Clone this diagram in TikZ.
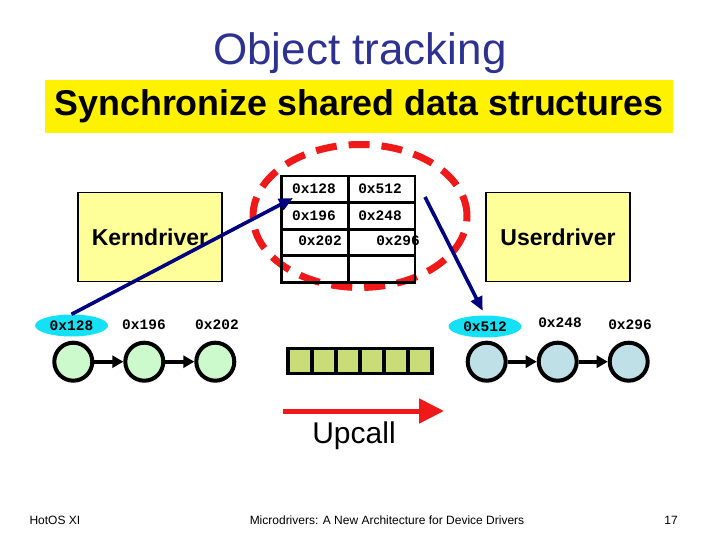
\documentclass[tikz,border=0pt]{standalone}
\usepackage{fontspec}
\setmainfont{Liberation Sans}
\setmonofont{Liberation Mono}
\usetikzlibrary{arrows.meta, positioning, shapes.geometric}

\definecolor{titleblue}{RGB}{45,50,145}
\definecolor{boxyellow}{RGB}{255,255,153}
\definecolor{ptrcyan}{RGB}{20,225,245}
\definecolor{kgreen}{RGB}{204,250,204}
\definecolor{ublue}{RGB}{190,224,230}
\definecolor{qgreen}{RGB}{200,220,120}
\definecolor{upred}{RGB}{240,25,25}
\definecolor{navy}{RGB}{0,0,128}

\begin{document}
\begin{tikzpicture}[x=1pt, y=-1pt,
    drvbox/.style={rectangle, draw=black, line width=1.5pt, fill=boxyellow,
                   minimum width=144pt, minimum height=89pt, font=\bfseries\fontsize{23}{27}\selectfont},
    addr/.style={font=\ttfamily\bfseries\fontsize{14.5}{16}\selectfont, inner sep=0pt},
    ptr/.style={addr, ellipse, fill=ptrcyan, minimum width=73pt, minimum height=22pt},
    kobj/.style={circle, draw=black, line width=4pt, fill=kgreen, minimum size=38pt, inner sep=0pt},
    uobj/.style={kobj, fill=ublue},
    link/.style={-{Triangle[length=11pt,width=12pt]}, line width=3.8pt},
    track/.style={-{Triangle[length=14pt,width=12pt]}, line width=3.6pt, draw=navy},
    cell/.style={rectangle, draw=black, line width=2.8pt, minimum width=66.6pt, minimum height=26.6pt, inner sep=0pt},
    slot/.style={rectangle, draw=black, line width=3.2pt, fill=qgreen, minimum width=24pt, minimum height=25pt, inner sep=0pt},
    ring/.style={ellipse, draw=upred, line width=7pt, dash pattern=on 21pt off 12pt,
                 minimum width=214pt, minimum height=143pt},
    upcall/.style={-{Triangle[length=25pt,width=24pt]}, line width=5pt, draw=upred}
]
\useasboundingbox (0,0) rectangle (720,540);

% Title and banner
\node[font=\fontsize{44}{50}\selectfont, text=titleblue] (title) at (360,53) {Object tracking};
\node[fill=yellow, minimum width=628pt, minimum height=53pt,
      font=\bfseries\fontsize{35.8}{41}\selectfont] (banner) at (359,106.5) {Synchronize shared data structures};

% Drivers
\node[drvbox] (kern) at (150,237) {Kerndriver};
\node[drvbox] (user) at (558,237) {Userdriver};

% Shared table
\node[ring] (shared) at (360,216) {};
\foreach \r in {0,...,3} {
  \node[cell] (a\r) at (315,189.3+\r*26.6) {};
  \node[cell] (b\r) at (381.6,189.3+\r*26.6) {};
}
\node[addr] (s128) at (314,189) {0x128};
\node[addr] (s512) at (380,189) {0x512};
\node[addr] (s196) at (314,216) {0x196};
\node[addr] (s248) at (380,216) {0x248};
\node[addr] (s202) at (320,241) {0x202};
\node[addr] (s296) at (398,241) {0x296};

% Kernel objects
\node[ptr] (ptr128) at (71.5,325.5) {0x128};
\node[addr] (l196) at (144,325) {0x196};
\node[addr] (l202) at (217,325) {0x202};
\node[kobj] (k128) at (73.3,361.7) {};
\node[kobj, right=29pt of k128] (k196) {};
\node[kobj, right=29pt of k196] (k202) {};

% User objects
\node[ptr] (ptr512) at (485,326.5) {0x512};
\node[addr] (l248) at (560,323) {0x248};
\node[addr] (l296) at (630,325) {0x296};
\node[uobj] (u512) at (486.7,361.7) {};
\node[uobj, right=29pt of u512] (u248) {};
\node[uobj, right=29pt of u248] (u296) {};

% Links
\draw[link] (k128) -- (k196);
\draw[link] (k196) -- (k202);
\draw[link] (u512) -- (u248);
\draw[link] (u248) -- (u296);

% Queue
\foreach \i in {0,...,5}
  \node[slot] (q\i) at (300+\i*24,361) {};

% Upcall
\coordinate (upfrom) at (283,411);
\coordinate (upto) at (444,411);
\draw[upcall] (upfrom) -- (upto);
\node[font=\fontsize{30}{34}\selectfont] (uplabel) at (354,436) {Upcall};

% Tracking arrows
\coordinate (t128) at (293,198);
\coordinate (t512) at (425,197);
\draw[track] (ptr128.north) -- (t128);
\draw[track, shorten >=5pt] (t512) -- (ptr512.north);

% Footer
\node[anchor=west, font=\fontsize{12}{14}\selectfont] (conf) at (26,520) {HotOS XI};
\node[font=\fontsize{12}{14}\selectfont] (paper) at (387,520) {Microdrivers: A New Architecture for Device Drivers};
\node[font=\fontsize{12}{14}\selectfont] (page) at (671,520) {17};
\end{tikzpicture}
\end{document}
